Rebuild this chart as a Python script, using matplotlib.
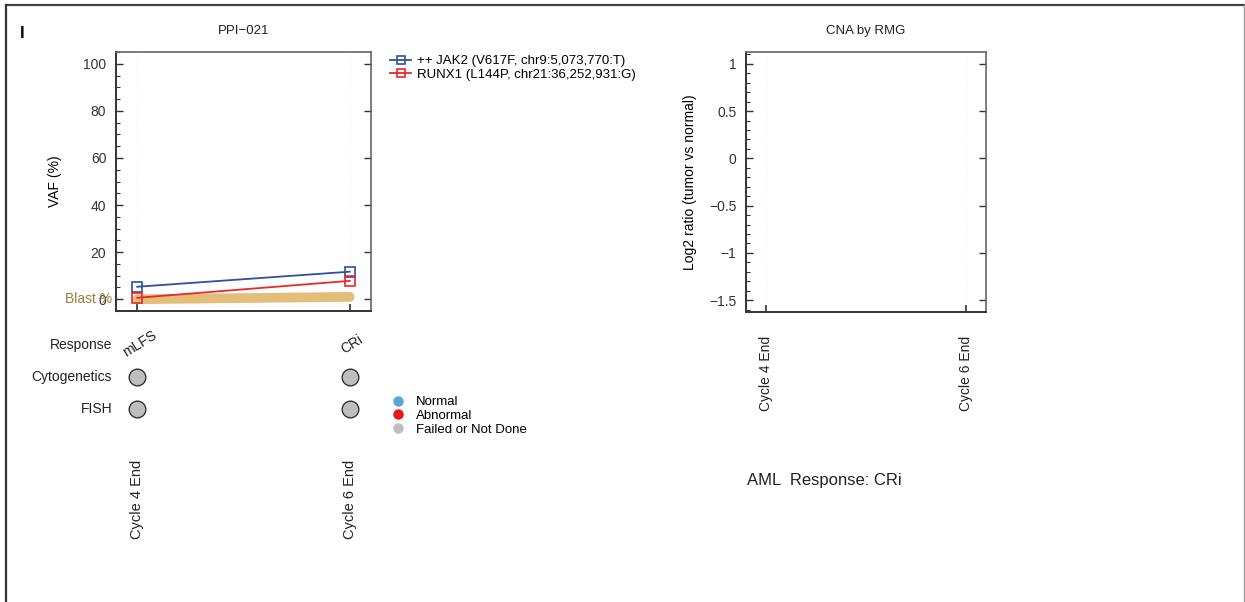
import numpy as np
import matplotlib
matplotlib.use('Agg')
import matplotlib.pyplot as plt
from matplotlib.lines import Line2D
from matplotlib.ticker import MultipleLocator
import matplotlib.transforms as mtransforms

plt.rcParams['font.family'] = ['Liberation Sans', 'DejaVu Sans']
plt.rcParams['axes.unicode_minus'] = True

# data
timepoints = ['Cycle 4 End', 'Cycle 6 End']
xpos = [1, 2]
jak2_vaf = [5.3, 11.7]
runx1_vaf = [0.6, 7.8]
blast_pct = [0.0, 1.0]
response = ['mLFS', 'CRi']
cytogenetics = ['Failed or Not Done', 'Failed or Not Done']
fish = ['Failed or Not Done', 'Failed or Not Done']
status_colors = {'Normal': '#5aa5d8', 'Abnormal': '#e41a1c', 'Failed or Not Done': '#bebebe'}
gene_labels = ['++ JAK2 (V617F, chr9:5,073,770:T)', 'RUNX1 (L144P, chr21:36,252,931:G)']
vaf_ticks = [0, 20, 40, 60, 80, 100]
cna_ticks = [1, 0.5, 0, -0.5, -1, -1.5]

W, H = 1245, 602
BLUE = '#2c4f9e'
RED = '#e8282b'
TAN = '#e2be78'
BROWN = '#9e7b3a'


def box(x0, y0, x1, y1):  # pixel box -> figure rect
    return [x0 / W, 1 - y1 / H, (x1 - x0) / W, (y1 - y0) / H]


def style_axes(ax):
    for s in ['left', 'bottom']:
        ax.spines[s].set_color('#333333')
        ax.spines[s].set_linewidth(1.4)
    for s in ['top', 'right']:
        ax.spines[s].set_color('#666666')
        ax.spines[s].set_linewidth(1.2)
    ax.tick_params(axis='y', which='major', direction='in', length=5, width=1,
                   left=True, right=True, labelsize=10, pad=7, colors='#333333')
    ax.tick_params(axis='y', which='minor', direction='in', length=3, width=0.8,
                   left=True, right=False, colors='#333333')
    ax.tick_params(axis='x', direction='in', length=5, width=1.2, labelbottom=False,
                   colors='#333333')
    ax.set_xlim(0.9, 2.1)
    ax.set_xticks(xpos)
    for x in xpos:
        ax.axvline(x, color='#eeeeee', lw=0.8, ls=':', zorder=0)


fig = plt.figure(figsize=(W / 100, H / 100), dpi=100)

# outer frame
fig.add_artist(Line2D([6 / W, 1244 / W], [1 - 5 / H, 1 - 5 / H], transform=fig.transFigure, color='#444444', lw=1.6))
fig.add_artist(Line2D([6 / W, 6 / W], [1 - 5 / H, 0], transform=fig.transFigure, color='#333333', lw=1.6))
fig.add_artist(Line2D([1244 / W, 1244 / W], [1 - 5 / H, 0], transform=fig.transFigure, color='#999999', lw=1.0))
fig.text(22 / W, 1 - 34 / H, 'I', fontsize=12, fontweight='bold', va='center', ha='center')

# ---- VAF panel
ax = fig.add_axes(box(116, 52, 371, 311))
style_axes(ax)
ax.set_ylim(-5, 105)
ax.set_yticks(vaf_ticks)
ax.yaxis.set_minor_locator(MultipleLocator(5))
ax.plot(xpos, blast_pct, color=TAN, lw=7, solid_capstyle='round', zorder=2)
ax.plot(xpos, jak2_vaf, color=BLUE, lw=1.3, marker='s', ms=7, mfc='none', mew=1.2, zorder=3, label=gene_labels[0])
ax.plot(xpos, runx1_vaf, color=RED, lw=1.3, marker='s', ms=7, mfc='none', mew=1.2, zorder=3, label=gene_labels[1])
ax.set_title('PPI\u2212021', fontsize=9.5, pad=13, color='#222222')
ax.set_ylabel('VAF (%)', fontsize=10)
ax.yaxis.set_label_coords(-0.21, 0.5)
trans = mtransforms.blended_transform_factory(fig.transFigure, ax.transData)
# blast axis label sits on top of the 0 tick label, as in the original
ax.text(112 / W, blast_pct[0], 'Blast %', transform=trans, ha='right', va='center',
        fontsize=10, color=BROWN)
leg = ax.legend(loc='upper left', bbox_to_anchor=(390 / W, 1 - 55 / H), bbox_transform=fig.transFigure,
                frameon=False, fontsize=9.5, handlelength=1.6, handletextpad=0.45, borderpad=0,
                borderaxespad=0, labelspacing=0.08, markerscale=0.85)

# annotation rows below VAF panel
tx = mtransforms.blended_transform_factory(ax.transData, fig.transFigure)
rows_y = {'Response': 345, 'Cytogenetics': 377, 'FISH': 409}
for name, yy in rows_y.items():
    fig.text(112 / W, 1 - yy / H, name, ha='right', va='center', fontsize=10, color='#222222')
for x, r in zip(xpos, response):
    ax.text(x + 0.01, 1 - 344 / H, r, transform=tx, rotation=32, ha='center', va='center',
            fontsize=10, color='#222222')
for row, vals in [('Cytogenetics', cytogenetics), ('FISH', fish)]:
    for x, v in zip(xpos, vals):
        ax.plot([x], [1 - rows_y[row] / H], transform=tx, marker='o', ms=12, mfc=status_colors[v],
                mec='#333333', mew=1, clip_on=False, ls='none')
for x, t in zip(xpos, timepoints):
    ax.text(x, 1 - 460 / H, t, transform=tx, rotation=90, ha='center', va='top', fontsize=10.5,
            color='#222222')

status_handles = [Line2D([], [], marker='o', ls='none', ms=6.5, mfc=c, mec=c, label=k)
                  for k, c in status_colors.items()]
fig.legend(handles=status_handles, loc='upper left', bbox_to_anchor=(391 / W, 1 - 396 / H),
           frameon=False, fontsize=9.5, handlelength=1.1, handletextpad=0.8, borderpad=0,
           borderaxespad=0, labelspacing=0.12)

# ---- CNA panel
ax2 = fig.add_axes(box(746, 52, 986, 312))
style_axes(ax2)
ax2.set_ylim(-1.625, 1.125)
ax2.set_yticks(cna_ticks)
ax2.set_yticklabels([f'{v:g}'.replace('-', '\u2212') for v in cna_ticks])
ax2.yaxis.set_minor_locator(MultipleLocator(0.1))
ax2.set_title('CNA by RMG', fontsize=9.5, pad=13, color='#222222')
ax2.set_ylabel('Log2 ratio (tumor vs normal)', fontsize=10)
ax2.yaxis.set_label_coords(-0.205, 0.5)
tx2 = mtransforms.blended_transform_factory(ax2.transData, fig.transFigure)
for x, t in zip(xpos, timepoints):
    ax2.text(x, 1 - 336 / H, t, transform=tx2, rotation=90, ha='center', va='top', fontsize=10,
             color='#222222')
fig.text(747 / W, 1 - 480 / H, 'AML  Response: ' + response[-1], fontsize=12, va='center',
         color='#222222')

fig.savefig('out.png', dpi=100)
